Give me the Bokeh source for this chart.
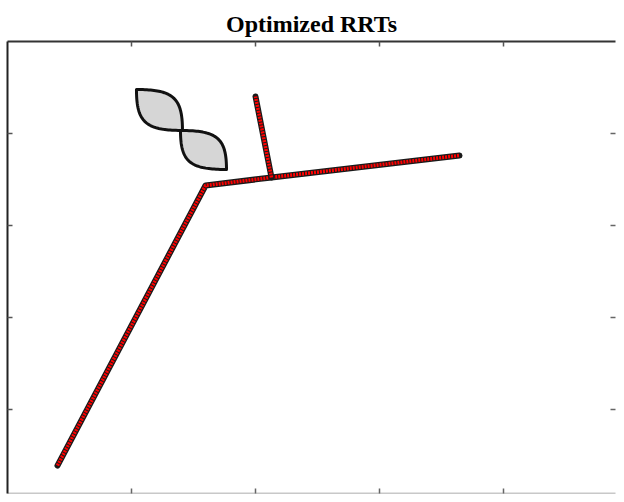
import numpy as np
from bokeh.plotting import figure
from bokeh.models import LinearAxis, FixedTicker, Range1d, CustomJSTickFormatter
from bokeh.embed import file_html
from bokeh.resources import INLINE

# Tree path (main branch) and side branch, in data units
path_x = [0.403, 1.597, 2.129, 3.645]
path_y = [0.391, 3.435, 3.522, 3.761]
branch_x = [2.129, 2.000]
branch_y = [3.522, 4.402]

# Obstacles: lens shapes given by their two pointed corners
obs_x0 = [1.040, 1.395]
obs_y0 = [4.478, 4.033]
obs_x1 = [1.411, 1.766]
obs_y1 = [4.033, 3.609]

x_ticks = [1, 2, 3, 4]
y_ticks = [1, 2, 3, 4]

p = figure(width=616, height=494, output_backend="svg", toolbar_location=None,
           x_range=Range1d(0.0, 4.903), y_range=Range1d(0.087, 5),
           x_axis_location=None, y_axis_location=None, min_border=0,
           min_border_top=41, min_border_left=7, min_border_right=1,
           min_border_bottom=1)
p.xgrid.visible = False
p.ygrid.visible = False
p.outline_line_color = None
p.background_fill_color = "white"
p.border_fill_color = "white"

p.title.text = "Optimized RRTs"
p.title.text_font = "Liberation Serif"
p.title.text_font_style = "bold"
p.title.text_font_size = "24px"
p.title.text_color = "black"
p.title.align = "center"


def mk_axis(ticks, line_color, line_width, tick_color):
    return LinearAxis(ticker=FixedTicker(ticks=ticks), major_tick_in=5, major_tick_out=0,
                      minor_tick_line_color=None,
                      formatter=CustomJSTickFormatter(code="return ''"),
                      major_label_standoff=0, axis_line_color=line_color,
                      axis_line_width=line_width, major_tick_line_color=tick_color,
                      major_tick_line_width=1.5)


p.add_layout(mk_axis(y_ticks, "#222222", 2, "#555555"), "left")
p.add_layout(mk_axis(y_ticks, None, 1, "#666666"), "right")
p.add_layout(mk_axis(x_ticks, "#333333", 2, "#555555"), "above")
p.add_layout(mk_axis(x_ticks, "#c8c8c8", 2, "#666666"), "below")

# Obstacles as lens patches (cubic Bezier edges pulled toward the box corners)
t = np.linspace(0, 1, 50)
k = 0.8


def bez(a, c, b):
    c1 = a + k * (c - a)
    c2 = b + k * (c - b)
    return ((1 - t) ** 3) * a + 3 * ((1 - t) ** 2) * t * c1 + 3 * (1 - t) * t ** 2 * c2 + t ** 3 * b


xs, ys = [], []
for x0, y0, x1, y1 in zip(obs_x0, obs_y0, obs_x1, obs_y1):
    ux, uy = bez(x0, x1, x1), bez(y0, y0, y1)   # upper-right edge
    lx, ly = bez(x1, x0, x0), bez(y1, y1, y0)   # lower-left edge
    xs.append(list(np.concatenate([ux, lx])))
    ys.append(list(np.concatenate([uy, ly])))
p.patches(xs, ys, fill_color="#d6d6d6", line_color="#111111", line_width=3,
          line_join="round")

# Tree edges: black outline with red dotted core
for lx_, ly_ in [(path_x, path_y), (branch_x, branch_y)]:
    p.line(lx_, ly_, line_color="#1a1a1a", line_width=6, line_join="round", line_cap="round")
    p.line(lx_, ly_, line_color="#ff0000", line_width=3.5, line_dash="2 1", line_join="round")

open("out.html", "w").write(file_html(p, INLINE))
